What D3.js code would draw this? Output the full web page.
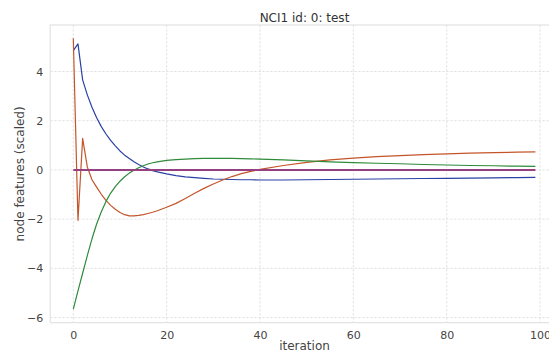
<!DOCTYPE html>
<html>
<head>
<meta charset="utf-8">
<script src="https://cdn.jsdelivr.net/npm/d3@7"></script>
<style>
  html, body { margin: 0; padding: 0; background: #fff; }
  svg { display: block; font-family: "DejaVu Sans", sans-serif; }
</style>
</head>
<body>
<svg id="chart" width="549" height="352"></svg>
<script>
const title = "NCI1 id: 0: test";
const xLabel = "iteration";
const yLabel = "node features (scaled)";

const iterations = [0,1,2,3,4,5,6,7,8,9,10,11,12,13,14,15,16,17,18,19,20,22,24,26,28,30,32,34,36,38,40,45,50,55,60,65,70,75,80,85,90,95,99];

const blueValues = [4.85,5.12,3.66,3.05,2.55,2.12,1.76,1.46,1.20,0.98,0.77,0.60,0.46,0.33,0.22,0.12,0.04,-0.03,-0.08,-0.12,-0.16,-0.23,-0.28,-0.31,-0.34,-0.37,-0.38,-0.39,-0.40,-0.40,-0.41,-0.41,-0.40,-0.39,-0.38,-0.37,-0.36,-0.35,-0.34,-0.33,-0.32,-0.31,-0.30];

const orangeValues = [5.35,-2.05,1.28,0.12,-0.40,-0.70,-0.99,-1.24,-1.44,-1.60,-1.73,-1.82,-1.87,-1.87,-1.85,-1.82,-1.77,-1.72,-1.66,-1.59,-1.52,-1.36,-1.16,-0.95,-0.75,-0.57,-0.41,-0.27,-0.15,-0.06,0.02,0.18,0.31,0.41,0.48,0.54,0.58,0.62,0.65,0.68,0.70,0.72,0.73];

const greenValues = [-5.66,-4.92,-4.20,-3.48,-2.80,-2.20,-1.70,-1.28,-0.94,-0.68,-0.46,-0.28,-0.13,-0.01,0.09,0.17,0.24,0.29,0.33,0.36,0.39,0.42,0.44,0.46,0.47,0.47,0.47,0.47,0.46,0.45,0.44,0.41,0.37,0.33,0.30,0.27,0.25,0.22,0.20,0.18,0.17,0.15,0.14];

const purpleValues = iterations.map(() => 0);

const xTicks = [0, 20, 40, 60, 80, 100];
const yTicks = [-6, -4, -2, 0, 2, 4];

const series = [
  { name: "blue", values: blueValues, color: "#2a40a3", width: 1.2 },
  { name: "orange", values: orangeValues, color: "#c4552a", width: 1.2 },
  { name: "green", values: greenValues, color: "#2f8a3a", width: 1.2 },
  { name: "purple", values: purpleValues, color: "#96407f", width: 2 }
];

const svg = d3.select("#chart");
const W = 549, H = 352;
const plot = { left: 50.2, right: 558.5, top: 25, bottom: 322.7 };

const x = d3.scaleLinear().domain([-4.95, 103.95]).range([plot.left, plot.right]);
const y = d3.scaleLinear().domain([-6.21, 5.89]).range([plot.bottom, plot.top]);

svg.append("rect").attr("width", W).attr("height", H).attr("fill", "#fff");

svg.append("defs").append("clipPath").attr("id", "clip")
  .append("rect")
  .attr("x", plot.left).attr("y", plot.top)
  .attr("width", plot.right - plot.left).attr("height", plot.bottom - plot.top);

// grid
const grid = svg.append("g");
grid.selectAll(".gx").data(xTicks).join("line")
  .attr("x1", d => x(d)).attr("x2", d => x(d))
  .attr("y1", plot.top).attr("y2", plot.bottom)
  .attr("stroke", "#dcdcdc").attr("stroke-width", 0.8).attr("stroke-dasharray", "2.5,1.5");
grid.selectAll(".gy").data(yTicks).join("line")
  .attr("x1", plot.left).attr("x2", plot.right)
  .attr("y1", d => y(d)).attr("y2", d => y(d))
  .attr("stroke", "#dcdcdc").attr("stroke-width", 0.8).attr("stroke-dasharray", "2.5,1.5");

// frame
svg.append("rect")
  .attr("x", plot.left).attr("y", plot.top)
  .attr("width", plot.right - plot.left).attr("height", plot.bottom - plot.top)
  .attr("fill", "none").attr("stroke", "#e3e3e3").attr("stroke-width", 1.2);

// axes (no tick marks)
const xAxis = d3.axisBottom(x).tickValues(xTicks).tickSize(0).tickPadding(9).tickFormat(d3.format("d"));
const yAxis = d3.axisLeft(y).tickValues(yTicks).tickSize(0).tickPadding(7).tickFormat(d => d < 0 ? "\u2212" + Math.abs(d) : String(d));

const gx = svg.append("g").attr("transform", `translate(0,${plot.bottom})`).call(xAxis);
const gy = svg.append("g").attr("transform", `translate(${plot.left},0)`).call(yAxis);
[gx, gy].forEach(g => {
  g.select(".domain").remove();
  g.selectAll("text").attr("font-family", "DejaVu Sans, sans-serif").attr("font-size", 11).attr("fill", "#444");
});

// lines
const line = d3.line().x((d, i) => x(iterations[i])).y(d => y(d));
const lines = svg.append("g").attr("clip-path", "url(#clip)");
series.forEach(s => {
  lines.append("path")
    .datum(s.values)
    .attr("d", line)
    .attr("fill", "none")
    .attr("stroke", s.color)
    .attr("stroke-width", s.width)
    .attr("stroke-linejoin", "round");
});

// labels
svg.append("text").attr("x", 304.5).attr("y", 22).attr("text-anchor", "middle")
  .attr("font-size", 12).attr("fill", "#333").text(title);
svg.append("text").attr("x", 304.5).attr("y", 349.5).attr("text-anchor", "middle")
  .attr("font-size", 12).attr("fill", "#444").text(xLabel);
svg.append("text").attr("transform", `translate(24,${(plot.top + plot.bottom) / 2}) rotate(-90)`)
  .attr("text-anchor", "middle").attr("font-size", 12).attr("fill", "#444").text(yLabel);
</script>
</body>
</html>
